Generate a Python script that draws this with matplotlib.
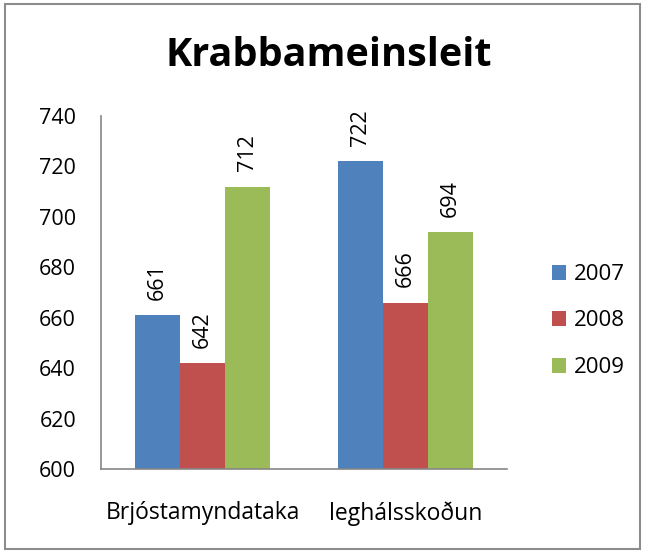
import matplotlib
matplotlib.use("Agg")
import matplotlib.pyplot as plt
import numpy as np
from matplotlib.patches import Rectangle

# -- Data ------------------------------------------------------
categories = ["Brjóstamyndataka", "leghálsskoðun"]
years      = ["2007", "2008", "2009"]
vals_2007  = [661, 722]
vals_2008  = [642, 666]
vals_2009  = [712, 694]
series     = [vals_2007, vals_2008, vals_2009]
colors     = ["#4F81BD", "#C0504D", "#9BBB59"]

plt.rcParams["font.family"] = ["Open Sans", "DejaVu Sans"]

W, H = 645, 553
fig = plt.figure(figsize=(W / 100, H / 100), dpi=100)
ax = fig.add_axes([101 / W, 1 - 469 / H, (507 - 101) / W, (469 - 116) / H])

x = np.arange(len(categories))
bw = 45 / 203
for i, (vals, c, yr) in enumerate(zip(series, colors, years)):
    bars = ax.bar(x + (i - 1) * bw, vals, width=bw, color=c, label=yr,
                  zorder=2)
    for b, v in zip(bars, vals):
        ax.text(b.get_x() + b.get_width() / 2, v + 6, str(v), rotation=90,
                ha="center", va="bottom", fontsize=15.5)

ax.set_xlim(-0.5, 1.5)
ax.set_ylim(600, 740)
ax.set_yticks(range(600, 741, 20))
ax.set_xticks(x)
ax.set_xticklabels(categories, fontsize=16.5)
ax.tick_params(axis="both", length=0)
ax.tick_params(axis="y", labelsize=15.5, pad=18)
ax.tick_params(axis="x", pad=23)
for s in ["top", "right"]:
    ax.spines[s].set_visible(False)
for s in ["left", "bottom"]:
    ax.spines[s].set_color("#868686")
    ax.spines[s].set_linewidth(1.2)

fig.text(329 / W, 1 - 56 / H, "Krabbameinsleit", ha="center", va="center",
         fontsize=28.5, fontweight="bold")

leg = fig.legend(loc="center left", bbox_to_anchor=(532 / W, 1 - 321 / H),
                 frameon=False, fontsize=16, handlelength=0.65,
                 handleheight=0.65, handletextpad=0.35, labelspacing=1.15)

fig.patches.append(Rectangle((5 / W, 4 / H), 635 / W, 545 / H,
                             transform=fig.transFigure, fill=False,
                             edgecolor="#8C8C8C", linewidth=1.5))

plt.savefig("out.png", dpi=100)
plt.close()
